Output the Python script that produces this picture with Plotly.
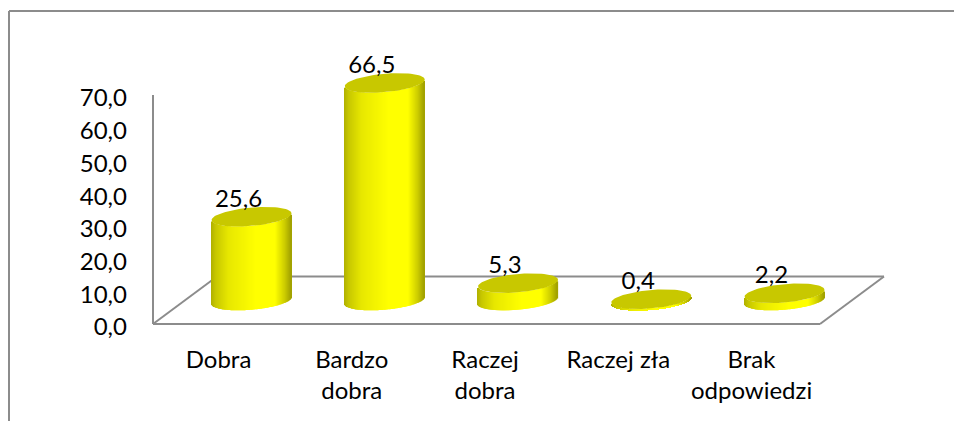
import numpy as np
import plotly.graph_objects as go

categories = ["Dobra", "Bardzo<br>dobra", "Raczej<br>dobra", "Raczej zła", "Brak<br>odpowiedzi"]
values = [25.6, 66.5, 5.3, 0.4, 2.2]
value_labels = ["25,6", "66,5", "5,3", "0,4", "2,2"]
y_ticks = [0, 10, 20, 30, 40, 50, 60, 70]
y_tick_labels = ["0,0", "10,0", "20,0", "30,0", "40,0", "50,0", "60,0", "70,0"]

OFF = 0
W, H = 954 - OFF, 421 - OFF
AX_L, AX_R = 153, 820
Y0, Y70 = 324, 95
PX_PER_UNIT = (Y0 - Y70) / 70
CX0, STEP = 251.5, 133.25
A, B, TILT = 40.0, 9.2, 3.4
LIFT = 23.5 / PX_PER_UNIT
FONT = "Lato"
FS = 24
GREY = "#8C8C8C"

stops = [(0, (176, 176, 0)), (0.06, (200, 200, 0)), (0.22, (232, 232, 0)), (0.55, (255, 255, 0)),
         (0.8, (255, 255, 0)), (0.92, (205, 205, 0)), (1, (160, 160, 0))]


def shade(f):
    xs = [s[0] for s in stops]
    return "rgb(%d,%d,0)" % ((np.interp(f, xs, [s[1][0] for s in stops]),) * 2)


def px(x):
    return (x - OFF) / W


def py(y):
    return 1 - (y - OFF) / H


strip_x, strip_base, strip_h, strip_c = [], [], [], []
dxs = np.arange(-A + 0.5, A, 1.0)
for i, v in enumerate(values):
    for dx in dxs:
        u = dx / A
        off = (B * np.sqrt(1 - u * u) - TILT * u) / PX_PER_UNIT
        strip_x.append(i + dx / STEP)
        strip_base.append(LIFT - off)
        strip_h.append(v)
        strip_c.append(shade((u + 1) / 2))

t = np.linspace(0, 2 * np.pi, 81)
top_x, top_y = [], []
for i, v in enumerate(values):
    top_x += list(i + A * np.cos(t) / STEP) + [None]
    top_y += list(LIFT + v + (B * np.sin(t) + TILT * np.cos(t)) / PX_PER_UNIT) + [None]

fig = go.Figure()
fig.add_trace(go.Bar(x=strip_x, y=strip_h, base=strip_base, width=1.25 / STEP,
                     marker=dict(color=strip_c, line=dict(width=0)),
                     cliponaxis=False, hoverinfo="skip", showlegend=False))
fig.add_trace(go.Scatter(x=top_x, y=top_y, mode="lines", fill="toself", fillcolor="#C8C800",
                         line=dict(width=0, color="#C8C800"), cliponaxis=False,
                         hoverinfo="skip", showlegend=False))
fig.add_trace(go.Scatter(x=[i - 13 / STEP for i in range(len(values))],
                         y=[LIFT + v + 16 / PX_PER_UNIT for v in values],
                         mode="text", text=value_labels, textposition="middle center",
                         textfont=dict(family=FONT, size=FS, color="black"),
                         cliponaxis=False, hoverinfo="skip", showlegend=False))

line = dict(color=GREY, width=2)
segments = [
    (9, 11, 9, 421), (9, 11, 954, 11),
    (AX_L, Y0, AX_L, Y70), (AX_L, Y0, AX_R, Y0),
    (AX_L, Y0, AX_L + 64, 276.5), (AX_L + 64, 276.5, 884, 276.5), (884, 276.5, AX_R, Y0),
]
shapes = [dict(type="line", xref="paper", yref="paper", x0=px(a), y0=py(b), x1=px(c), y1=py(d),
               line=line, layer="below") for a, b, c, d in segments]

fig.update_layout(
    template="none",
    width=W, height=H, margin=dict(l=0, r=0, t=0, b=0, autoexpand=False), autosize=False,
    paper_bgcolor="white", plot_bgcolor="rgba(0,0,0,0)", barmode="overlay", shapes=shapes,
    font=dict(family=FONT, size=FS, color="black"), showlegend=False,
    xaxis=dict(domain=[px(AX_L), 1], range=[(AX_L - CX0) / STEP, (954 - CX0) / STEP],
               tickmode="array", tickvals=[i - 33 / STEP for i in range(len(categories))],
               ticktext=categories, ticks="", showgrid=False, zeroline=False, showline=False,
               ticklabelstandoff=19, anchor="y", automargin=False,
               tickfont=dict(family=FONT, size=FS), tickangle=0),
    yaxis=dict(domain=[py(Y0), 1], range=[0, (Y0 - OFF) / PX_PER_UNIT], tickmode="array", tickvals=y_ticks,
               ticktext=y_tick_labels, ticks="", showgrid=False, zeroline=False, showline=False,
               ticklabelstandoff=25, ticklabelshift=3, anchor="x", automargin=False,
               tickfont=dict(family=FONT, size=FS)),
)
fig.write_html("out.html", config=dict(displayModeBar=False), default_width=f"{W}px", default_height=f"{H}px",
               post_script="document.body.style.margin='0';")
